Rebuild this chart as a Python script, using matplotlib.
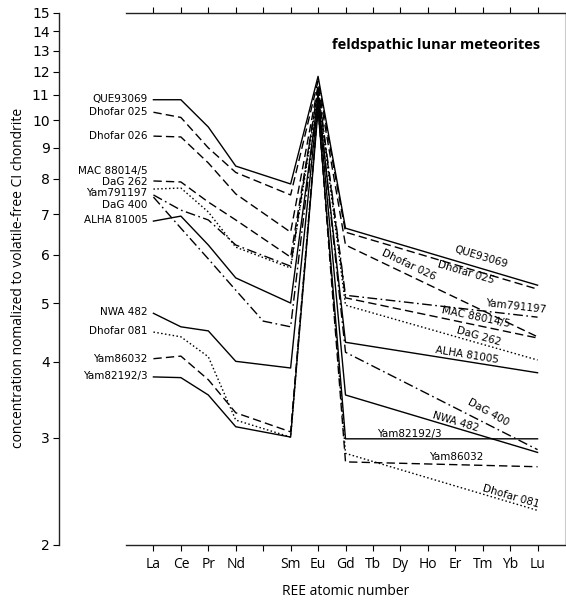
import numpy as np
import matplotlib.pyplot as plt
from matplotlib.ticker import NullLocator

plt.rcParams['lines.scale_dashes'] = False

# REE positions (Pm at 61 has a tick but no label)
ree_z = [57, 58, 59, 60, 61, 62, 63, 64, 65, 66, 67, 68, 69, 70, 71]
ree_names = ['La', 'Ce', 'Pr', 'Nd', '', 'Sm', 'Eu', 'Gd', 'Tb', 'Dy', 'Ho', 'Er', 'Tm', 'Yb', 'Lu']
y_ticks = list(range(2, 16))

# elements measured for most samples: La Ce Pr Nd Sm Eu Gd Lu
z_main = [57, 58, 59, 60, 62, 63, 64, 71]
z_dag400 = [57, 58, 59, 60, 61, 62, 63, 64, 71]

que93069 = [10.8, 10.8, 9.74, 8.40, 7.85, 11.8, 6.64, 5.35]
dhofar025 = [10.3, 10.1, 9.0, 8.2, 7.53, 11.6, 6.54, 5.27]
dhofar026 = [9.41, 9.38, 8.5, 7.56, 6.54, 11.4, 6.23, 4.40]
mac88014 = [7.94, 7.91, 7.33, 6.85, 5.95, 11.2, 5.10, 4.38]
dag262 = [7.70, 7.73, 7.06, 6.18, 5.71, 11.1, 4.96, 4.03]
yam791197 = [7.53, 7.11, 6.85, 6.23, 5.75, 11.3, 5.15, 4.74]
dag400 = [7.47, 6.64, 5.91, 5.25, 4.67, 4.57, 11.0, 4.15, 2.87]
alha81005 = [6.82, 6.95, 6.23, 5.50, 5.00, 10.9, 4.31, 3.84]
nwa482 = [4.81, 4.57, 4.50, 4.01, 3.91, 10.8, 3.53, 2.84]
dhofar081 = [4.48, 4.40, 4.08, 3.21, 3.01, 10.6, 2.83, 2.28]
yam86032 = [4.05, 4.09, 3.74, 3.30, 3.07, 10.5, 2.74, 2.69]
yam82192 = [3.78, 3.77, 3.53, 3.13, 3.01, 10.4, 2.99, 2.99]

solid = '-'
dashed = (0, (6, 3))
dashdot = (0, (7, 2.5, 1.2, 2.5))
dotted = (0, (1.1, 1.7))

series = [
    ('QUE93069', z_main, que93069, solid),
    ('Dhofar 025', z_main, dhofar025, dashed),
    ('Dhofar 026', z_main, dhofar026, dashed),
    ('MAC 88014/5', z_main, mac88014, dashed),
    ('DaG 262', z_main, dag262, dotted),
    ('Yam791197', z_main, yam791197, dashdot),
    ('DaG 400', z_dag400, dag400, dashdot),
    ('ALHA 81005', z_main, alha81005, solid),
    ('NWA 482', z_main, nwa482, solid),
    ('Dhofar 081', z_main, dhofar081, dotted),
    ('Yam86032', z_main, yam86032, dashed),
    ('Yam82192/3', z_main, yam82192, solid),
]

fig = plt.figure(figsize=(5.66, 6.01), dpi=100)
ax = fig.add_axes([126 / 566, 56 / 601, 439 / 566, 532 / 601])

for name, z, vals, ls in series:
    ax.plot(z, vals, color='black', lw=1.0, linestyle=ls)

ax.set_yscale('log')
ax.set_ylim(2, 15)
ax.set_xlim(56, 72)
ax.set_yticks(y_ticks)
ax.set_yticklabels([str(t) for t in y_ticks])
ax.yaxis.set_minor_locator(NullLocator())
ax.xaxis.set_minor_locator(NullLocator())
ax.set_xticks(ree_z)
ax.set_xticklabels(ree_names)

tick_font = 'Open Sans'
for lab in ax.get_xticklabels() + ax.get_yticklabels():
    lab.set_family(tick_font)
    lab.set_fontsize(10)

ax.spines['left'].set_position(('outward', 48))
ax.spines['right'].set_color('#cccccc')
for s in ['left', 'bottom', 'top']:
    ax.spines[s].set_color('#222222')
    ax.spines[s].set_linewidth(1.0)
ax.xaxis.set_ticks_position('both')
ax.tick_params(axis='x', which='major', direction='out', length=4, width=0.8, pad=5)
ax.tick_params(axis='y', direction='out', length=4, width=0.8, pad=3)

ax.set_xlabel('REE atomic number', family=tick_font, fontsize=10, va='center')
ax.xaxis.set_label_coords(0.501, -0.088)
ax.set_ylabel('concentration nomalized to volatile-free CI chondrite',
              family=tick_font, fontsize=10, va='center')
ax.yaxis.set_label_coords(-0.244, 0.502)

ax.text(0.943, 0.94, 'feldspathic lunar meteorites', transform=ax.transAxes,
        ha='right', va='center', fontsize=10.5, fontweight='bold', family=tick_font)

# sample names at the left end of the curves
left_labels = [
    ('QUE93069', 10.83), ('Dhofar 025', 10.31), ('Dhofar 026', 9.41),
    ('MAC 88014/5', 8.25), ('DaG 262', 7.92), ('Yam791197', 7.58),
    ('DaG 400', 7.24), ('ALHA 81005', 6.85), ('NWA 482', 4.83),
    ('Dhofar 081', 4.50), ('Yam86032', 4.05), ('Yam82192/3', 3.79),
]
for name, yv in left_labels:
    ax.text(56.78, yv, name, ha='right', va='center', fontsize=7.5)

# sample names along the HREE segments
right_labels = [
    ('QUE93069', 68.93, 5.95, -16.5),
    ('Dhofar 025', 68.38, 5.62, -16.5),
    ('Dhofar 026', 66.31, 5.77, -25.5),
    ('Yam791197', 70.2, 4.94, -6.5),
    ('MAC 88014/5', 68.75, 4.74, -11.7),
    ('DaG 262', 68.85, 4.40, -15.9),
    ('ALHA 81005', 68.42, 4.10, -9.1),
    ('DaG 400', 69.22, 3.31, -29),
    ('NWA 482', 68.02, 3.19, -16.5),
    ('Yam82192/3', 66.31, 3.04, 0),
    ('Yam86032', 68.05, 2.79, 0),
    ('Dhofar 081', 70.02, 2.40, -16.5),
]
for name, xv, yv, rot in right_labels:
    ax.text(xv, yv, name, ha='center', va='center', fontsize=7.5,
            rotation=rot, rotation_mode='anchor')

fig.savefig('out.png', dpi=100)
